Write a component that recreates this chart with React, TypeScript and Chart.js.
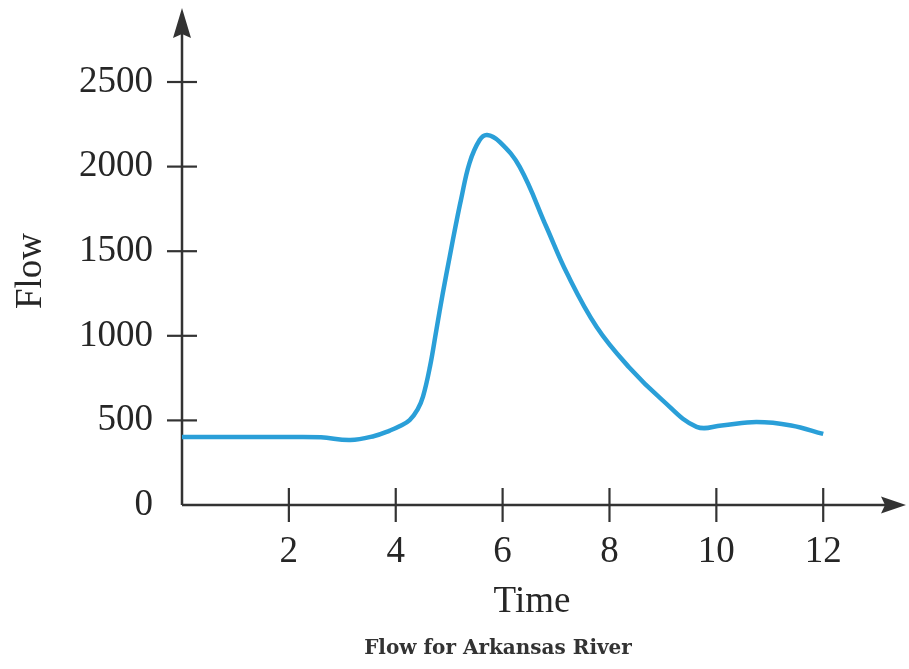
import React, { useEffect, useRef } from 'react';
import { Chart, registerables } from 'chart.js';

Chart.register(...registerables);

// Flow of the Arkansas River
const timeValues = [0, 1, 2, 2.6, 3.15, 3.6, 3.89, 4.07, 4.26, 4.41, 4.51, 4.64, 4.76, 4.88, 5.01, 5.13, 5.22, 5.38, 5.57, 5.71, 5.95, 6.32, 6.82, 7.2, 7.76, 8.37, 8.99, 9.63, 10.1, 10.75, 11.4, 12];
const flowValues = [402, 402, 402, 400, 384, 408, 440, 465, 502, 565, 640, 817, 1034, 1251, 1468, 1665, 1803, 2021, 2157, 2187, 2145, 1998, 1643, 1372, 1052, 813, 620, 462, 470, 490, 470, 420];

const xTickValues = [2, 4, 6, 8, 10, 12];
const yTickValues = [0, 500, 1000, 1500, 2000, 2500];

const xTitle = 'Time';
const yTitle = 'Flow';
const caption = 'Flow for Arkansas River';

const serif = '"Liberation Serif", "Times New Roman", serif';
const inkColor = '#262626';
const lineColor = '#2a9fd8';

// axes with arrow heads and ticks that cross the axis line
const arrowAxesPlugin = {
  id: 'arrowAxes',
  beforeDatasetsDraw(chart: any) {
    const { ctx, chartArea, scales } = chart;
    const x0 = scales.x.getPixelForValue(0);
    const y0 = scales.y.getPixelForValue(0);
    ctx.save();
    ctx.strokeStyle = '#333';
    ctx.fillStyle = '#333';
    ctx.lineWidth = 2.5;

    // x axis
    ctx.beginPath();
    ctx.moveTo(x0, y0);
    ctx.lineTo(chartArea.right + 6, y0);
    ctx.stroke();
    ctx.beginPath();
    ctx.moveTo(chartArea.right + 24, y0);
    ctx.lineTo(chartArea.right - 1, y0 - 8.5);
    ctx.lineTo(chartArea.right + 3, y0);
    ctx.lineTo(chartArea.right - 1, y0 + 8.5);
    ctx.closePath();
    ctx.fill();

    // y axis
    ctx.beginPath();
    ctx.moveTo(x0, y0);
    ctx.lineTo(x0, chartArea.top - 6);
    ctx.stroke();
    ctx.beginPath();
    ctx.moveTo(x0, chartArea.top - 29);
    ctx.lineTo(x0 - 9, chartArea.top + 1);
    ctx.lineTo(x0, chartArea.top - 3);
    ctx.lineTo(x0 + 9, chartArea.top + 1);
    ctx.closePath();
    ctx.fill();

    // tick marks
    ctx.lineWidth = 2.2;
    xTickValues.forEach((v) => {
      const px = scales.x.getPixelForValue(v);
      ctx.beginPath();
      ctx.moveTo(px, y0 - 17);
      ctx.lineTo(px, y0 + 17);
      ctx.stroke();
    });
    yTickValues.forEach((v) => {
      if (v === 0) return;
      const py = scales.y.getPixelForValue(v);
      ctx.beginPath();
      ctx.moveTo(x0 - 15, py);
      ctx.lineTo(x0 + 15, py);
      ctx.stroke();
    });
    ctx.restore();
  },
  afterDraw(chart: any) {
    const { ctx } = chart;
    ctx.save();
    ctx.font = 'bold 20px "DejaVu Serif", serif';
    ctx.fillStyle = '#333';
    ctx.textAlign = 'center';
    ctx.textBaseline = 'middle';
    ctx.fillText(caption, 498, 649);
    ctx.restore();
  },
};

const App: React.FC = () => {
  const canvasRef = useRef<HTMLCanvasElement | null>(null);
  const chartRef = useRef<Chart | null>(null);

  useEffect(() => {
    if (!canvasRef.current) return;
    const ctx = canvasRef.current.getContext('2d');
    if (!ctx) return;

    if (chartRef.current) {
      chartRef.current.destroy();
      chartRef.current = null;
    }

    chartRef.current = new Chart(ctx, {
      type: 'line',
      data: {
        datasets: [
          {
            label: yTitle,
            data: timeValues.map((t, i) => ({ x: t, y: flowValues[i] })),
            borderColor: lineColor,
            borderWidth: 4.5,
            pointRadius: 0,
            fill: false,
            tension: 0.4,
          },
        ],
      },
      options: {
        responsive: false,
        animation: false,
        layout: { padding: { top: 37, right: 27, bottom: 0, left: 0 } },
        plugins: {
          legend: { display: false },
          tooltip: { enabled: false },
        },
        scales: {
          x: {
            type: 'linear',
            min: 0,
            max: 13.1,
            afterBuildTicks: (scale: any) => {
              scale.ticks = xTickValues.map((v) => ({ value: v }));
            },
            afterFit: (scale: any) => {
              scale.height = 164;
              scale.paddingLeft = 0;
              scale.paddingRight = 0;
            },
            grid: { display: false },
            border: { display: false },
            ticks: {
              color: inkColor,
              padding: 17,
              maxRotation: 0,
              font: { family: serif, size: 37 },
              callback: (v: any) => String(v),
            },
            title: {
              display: true,
              text: xTitle,
              color: inkColor,
              padding: { top: 0, bottom: 45 },
              font: { family: serif, size: 37 },
            },
          },
          y: {
            min: 0,
            max: 2766,
            afterBuildTicks: (scale: any) => {
              scale.ticks = yTickValues.map((v) => ({ value: v }));
            },
            afterFit: (scale: any) => {
              scale.width = 182;
              scale.paddingTop = 0;
              scale.paddingBottom = 0;
            },
            grid: { display: false },
            border: { display: false },
            ticks: {
              color: inkColor,
              padding: 21,
              font: { family: serif, size: 37 },
              callback: (v: any) => String(v),
            },
            title: {
              display: true,
              text: yTitle,
              color: inkColor,
              padding: { top: 9, bottom: 0 },
              font: { family: serif, size: 37 },
            },
          },
        },
      },
      plugins: [arrowAxesPlugin],
    });

    return () => {
      if (chartRef.current) {
        chartRef.current.destroy();
        chartRef.current = null;
      }
    };
  }, []);

  return (
    <div style={{ position: 'absolute', left: 0, top: 0, width: 909, height: 669, background: '#fff' }}>
      <canvas ref={canvasRef} width={909} height={669} style={{ display: 'block' }}></canvas>
    </div>
  );
};

export default App;
